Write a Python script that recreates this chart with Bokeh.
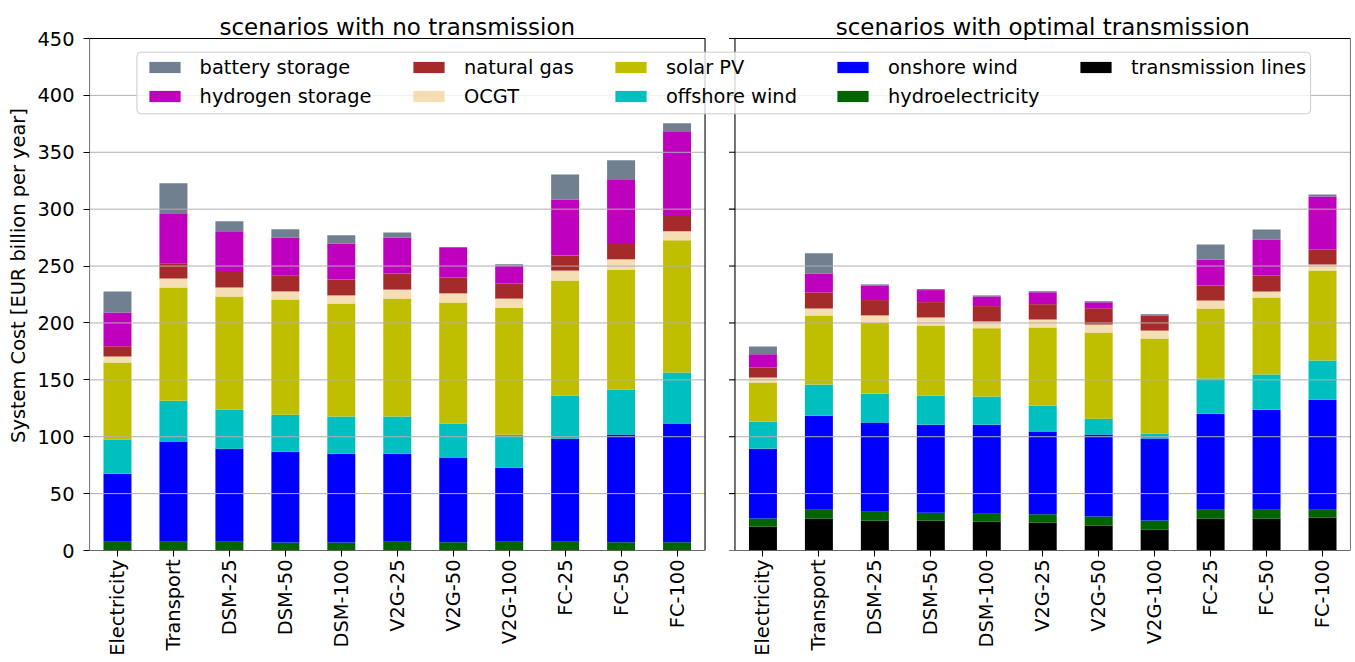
import math
from bokeh.plotting import figure
from bokeh.models import (Range1d, FixedTicker, BoxAnnotation, Legend, LegendItem,
                          Label, Title, ColumnDataSource)
from bokeh.embed import file_html
from bokeh.resources import INLINE

# ---------------- data (EUR billion per year) ----------------
scenarios = ["Electricity", "Transport", "DSM-25", "DSM-50", "DSM-100",
             "V2G-25", "V2G-50", "V2G-100", "FC-25", "FC-50", "FC-100"]

# scenarios with no transmission
trans_none = [0, 0, 0, 0, 0, 0, 0, 0, 0, 0, 0]
hydro_none = [7.6, 7.6, 7.6, 7.0, 7.0, 7.6, 7.2, 7.6, 7.6, 7.2, 7.2]
onshore_none = [59.9, 88.1, 81.9, 79.9, 78.1, 77.4, 74.5, 65.1, 90.6, 94.7, 104.4]
offshore_none = [29.9, 36.0, 34.3, 32.5, 32.6, 32.8, 29.9, 29.0, 37.8, 39.6, 44.9]
solar_none = [67.8, 99.5, 99.5, 101.3, 99.4, 103.6, 106.4, 111.7, 101.2, 105.4, 116.1]
ocgt_none = [5.3, 7.9, 7.9, 7.0, 7.1, 7.9, 8.0, 8.0, 8.8, 9.0, 7.9]
gas_none = [9.1, 13.0, 13.5, 14.1, 14.1, 14.1, 14.0, 13.2, 13.2, 13.5, 13.5]
h2_none = [29.6, 43.7, 35.8, 33.4, 31.6, 31.6, 25.8, 15.8, 49.3, 56.9, 74.5]
battery_none = [18.5, 27.0, 8.8, 7.1, 7.1, 4.4, 0.9, 1.2, 22.0, 16.7, 7.0]

# scenarios with optimal transmission
trans_opt = [20.8, 27.9, 26.1, 26.1, 25.2, 24.5, 21.9, 18.3, 28.0, 28.0, 28.9]
hydro_opt = [7.4, 7.9, 7.9, 7.1, 7.1, 7.3, 7.9, 8.0, 7.9, 7.9, 7.0]
onshore_opt = [61.3, 82.7, 78.4, 77.4, 78.3, 72.7, 72.1, 72.1, 84.4, 87.9, 96.7]
offshore_opt = [23.8, 27.3, 25.5, 25.6, 24.7, 22.9, 14.0, 4.4, 30.8, 30.8, 34.3]
solar_opt = [34.3, 60.8, 62.1, 61.6, 60.1, 68.6, 75.6, 83.5, 61.5, 67.7, 79.2]
ocgt_opt = [4.4, 6.1, 6.6, 7.0, 5.9, 7.0, 7.1, 7.0, 7.1, 5.3, 5.3]
gas_opt = [8.8, 14.1, 13.5, 13.5, 13.5, 13.5, 14.3, 13.2, 13.2, 14.1, 13.1]
h2_opt = [11.7, 16.7, 12.9, 10.6, 8.5, 10.5, 5.3, 0.3, 22.8, 31.6, 46.7]
battery_opt = [6.8, 17.7, 0.9, 0.9, 0.9, 0.9, 0.9, 0.9, 13.2, 8.8, 1.7]

techs = ["transmission lines", "hydroelectricity", "onshore wind", "offshore wind",
         "solar PV", "OCGT", "natural gas", "hydrogen storage", "battery storage"]
tech_colors = ["#000000", "#006400", "#0000ff", "#00bfbf", "#bfbf00",
               "#f5deb3", "#a52a2a", "#bf00bf", "#708090"]
panel_titles = ["scenarios with no transmission", "scenarios with optimal transmission"]
y_ticks = [0, 50, 100, 150, 200, 250, 300, 350, 400, 450]
y_label = "System Cost [EUR billion per year]"

none_vals = [trans_none, hydro_none, onshore_none, offshore_none, solar_none,
             ocgt_none, gas_none, h2_none, battery_none]
opt_vals = [trans_opt, hydro_opt, onshore_opt, offshore_opt, solar_opt,
            ocgt_opt, gas_opt, h2_opt, battery_opt]

# ---------------- layout (pixels) ----------------
FONT = "DejaVu Sans"
W, H = 1355, 662
FL, FR = 87, 1350          # frame left / right
Y450, Y0 = 38, 550         # pixel rows of 450 and 0
ML, MR, MT, MB = FL, W - FR, 0, H - Y0
FW = FR - FL
GAP_PX = 30
n = len(scenarios)
g = round(GAP_PX * 2 * n / (FW - GAP_PX), 3)
ppu = FW / (2 * n + g)              # pixels per x unit
ppy = (Y0 - Y450) / 450.0           # pixels per y unit
y_top = 450 + Y450 / ppy


def xdat(px):
    return -0.5 + (px - FL) / ppu


def ydat(py):
    return (Y0 - py) / ppy


x_left = list(range(n))
x_right = [round(i + n + g, 3) for i in range(n)]

data = {"x": x_left + x_right}
for t, a, b in zip(techs, none_vals, opt_vals):
    data[t] = list(a) + list(b)
src = ColumnDataSource(data)

p = figure(width=W, height=H, x_range=Range1d(-0.5, 2 * n - 0.5 + g),
           y_range=Range1d(0, y_top), output_backend="svg", toolbar_location=None,
           min_border_left=ML, min_border_right=MR, min_border_top=MT,
           min_border_bottom=MB)
p.outline_line_color = None
p.xgrid.visible = False
p.ygrid.visible = False
p.background_fill_color = "white"
p.border_fill_color = "white"

rends = p.vbar_stack(techs, x="x", width=0.5, fill_color=tech_colors,
                     line_color=None, source=src)

# grid lines per panel (drawn over bars as in the reference)
L0, L1 = -0.5, n - 0.5
R0, R1 = n - 0.5 + g, 2 * n - 0.5 + g
ny = len(y_ticks)
p.segment(x0=[L0] * ny + [R0] * ny, x1=[L1] * ny + [R1] * ny,
          y0=y_ticks + y_ticks, y1=y_ticks + y_ticks,
          line_color="#b0b0b0", line_width=1)

# y ticks of right panel
tl = 6 / ppu
p.segment(x0=[R0 - tl] * ny, x1=[R0] * ny, y0=y_ticks, y1=y_ticks,
          line_color="black", line_width=1.1)

# panel frames
for l, r in [(L0, L1), (R0, R1)]:
    p.add_layout(BoxAnnotation(left=l, right=r, top=450, bottom=0,
                               fill_color=None, fill_alpha=0,
                               line_color="black", line_alpha=1, line_width=1.1))

# axes
p.xaxis.ticker = FixedTicker(ticks=x_left + x_right)
p.xaxis.major_label_overrides = {x: s for x, s in zip(x_left + x_right, scenarios + scenarios)}
p.xaxis.major_label_orientation = math.pi / 2
p.yaxis.ticker = FixedTicker(ticks=y_ticks)
for ax in (p.xaxis[0], p.yaxis[0]):
    ax.axis_line_color = None
    ax.major_tick_out = 6
    ax.major_tick_in = 0
    ax.minor_tick_line_color = None
    ax.major_tick_line_color = "black"
    ax.major_tick_line_width = 1.1
    ax.major_label_text_font = FONT
    ax.major_label_text_font_size = "19.4px"
    ax.major_label_text_color = "black"
p.xaxis.major_label_standoff = 3
p.yaxis.major_label_standoff = 9

# y axis label as a side title, shifted to the centre of the 0..450 span
p.add_layout(Title(text=y_label, align="center", offset=-19, standoff=9,
                   text_font=FONT, text_font_size="19.4px",
                   text_font_style="normal", text_color="black"), "left")

# panel titles
for cx, txt in [((n - 1) / 2, panel_titles[0]), (n + g + (n - 1) / 2, panel_titles[1])]:
    p.add_layout(Label(x=cx, y=ydat(26.7), text=txt, text_align="center",
                       text_baseline="alphabetic", text_font=FONT,
                       text_font_size="23px", text_color="black"))

# legend frame
p.add_layout(BoxAnnotation(left=xdat(134.5), right=xdat(1310),
                           top=ydat(51.7), bottom=ydat(113.3),
                           fill_color="white", fill_alpha=0.8, line_color="#cccccc",
                           line_alpha=1, line_width=1, border_radius=4))

# legend columns (filled column-wise, two rows)
rmap = dict(zip(techs, rends))
order = techs[::-1]
cols = [order[i:i + 2] for i in range(0, len(order), 2)]
col_px = [142.6, 407, 609, 831, 1074]
leg_top, row_h, row_gap = 55.5, 23, 6
for cx, names in zip(col_px, cols):
    leg_h = len(names) * row_h + (len(names) - 1) * row_gap
    leg = Legend(items=[LegendItem(label=nm, renderers=[rmap[nm]]) for nm in names],
                 location=(cx - FL, Y0 - (leg_top + leg_h)), orientation="vertical",
                 padding=0, margin=0, spacing=row_gap, glyph_width=39, glyph_height=14,
                 label_standoff=16, label_height=row_h,
                 label_text_font=FONT, label_text_font_size="19.4px",
                 label_text_color="black", background_fill_alpha=0,
                 border_line_color=None)
    p.add_layout(leg)

open("out.html", "w").write(file_html(p, INLINE, title="System cost"))
